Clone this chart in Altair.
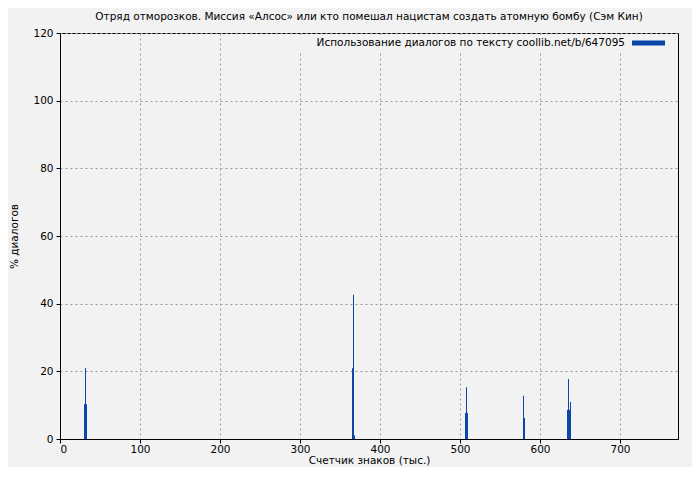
import altair as alt
import pandas as pd

# bar segments (x in thousand chars), value in % dialogs
seg_start = [30.0, 31.25, 365.0, 366.25, 367.5, 506.25, 507.5, 578.75, 578.75, 633.75, 635.0, 637.5]
seg_end   = [33.75, 32.5, 366.25, 367.5, 368.75, 510.0, 508.75, 581.25, 580.0, 637.5, 636.25, 638.75]
seg_value = [10.3, 21.0, 20.9, 42.6, 1.0, 7.7, 15.3, 6.2, 12.8, 8.6, 17.7, 10.9]

x_ticks = [0, 100, 200, 300, 400, 500, 600, 700]
y_ticks = [0, 20, 40, 60, 80, 100, 120]

title_text = "Отряд отморозков. Миссия «Алсос» или кто помешал нацистам создать атомную бомбу (Сэм Кин)"
legend_text = "Использование диалогов по тексту coollib.net/b/647095"
x_title = "Счетчик знаков (тыс.)"
y_title = "% диалогов"

BAR = "#0a47a8"
BG = "#f2f2f2"
FONT = "DejaVu Sans"
FS = 10.5

df = pd.DataFrame({"start": seg_start, "end": seg_end, "value": seg_value})

xscale = alt.Scale(domain=[0, 772.5], nice=False, zero=False)
yscale = alt.Scale(domain=[0, 120], nice=False)

bars = alt.Chart(df).mark_bar(color=BAR, opacity=1, strokeWidth=0).encode(
    x=alt.X("start:Q", scale=xscale,
            axis=alt.Axis(values=x_ticks, title=x_title, grid=True, gridDash=[2, 3],
                          gridColor="#999999", domainColor="black", tickColor="black",
                          tickSize=4, labelPadding=1, titlePadding=1)),
    x2="end:Q",
    y=alt.Y("value:Q", scale=yscale,
            axis=alt.Axis(values=y_ticks, title=y_title, grid=True, gridDash=[2, 3],
                          gridColor="#999999", domainColor="black", tickColor="black",
                          tickSize=4, labelPadding=3, titlePadding=13)),
    y2=alt.datum(0),
)

leg_df = pd.DataFrame({"label": [legend_text]})
leg_bg = alt.Chart(leg_df).mark_rect(color=BG).encode(
    x=alt.value(236), x2=alt.value(612), y=alt.value(2), y2=alt.value(18))
leg_text = alt.Chart(leg_df).mark_text(align="right", baseline="middle", font=FONT,
                                       fontSize=FS, color="black").encode(
    x=alt.value(565), y=alt.value(10), text="label:N")
leg_line = alt.Chart(leg_df).mark_rule(color=BAR, strokeWidth=5).encode(
    x=alt.value(572), x2=alt.value(605), y=alt.value(10))

chart = alt.layer(bars, leg_bg, leg_text, leg_line).properties(
    width=618, height=406,
    title=alt.TitleParams(title_text, fontSize=FS, fontWeight="normal", font=FONT,
                          color="black", anchor="middle", offset=6),
    background=BG,
    padding={"left": 52, "top": 25, "right": 14, "bottom": 28},
    autosize=alt.AutoSizeParams(type="none"),
).configure_view(stroke="black", strokeWidth=1).configure_axis(
    labelFont=FONT, titleFont=FONT, labelFontSize=FS, titleFontSize=FS,
    labelColor="black", titleColor="black", titleFontWeight="normal",
    domainWidth=1, tickWidth=1,
)

chart.save("out.html", embed_options={"renderer": "svg", "actions": False})
